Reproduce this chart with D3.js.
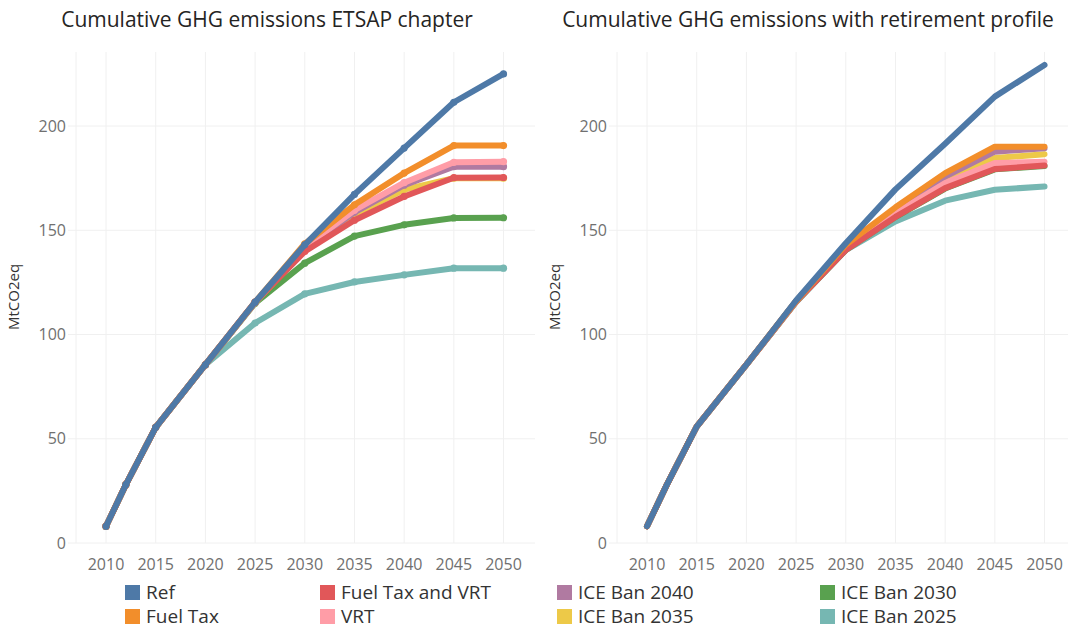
<!DOCTYPE html>
<html>
<head>
<meta charset="utf-8">
<script src="https://cdn.jsdelivr.net/npm/d3@7"></script>
<style>
  body { margin: 0; background: #fff; }
  text { font-family: "Open Sans", "Noto Sans", sans-serif; }
</style>
</head>
<body>
<script>
// years on the x axis
const years = [2010, 2012, 2015, 2020, 2025, 2030, 2035, 2040, 2045, 2050];
const yTicks = [0, 50, 100, 150, 200];
const xTicks = [2010, 2015, 2020, 2025, 2030, 2035, 2040, 2045, 2050];

// scenario names, drawing order is bottom -> top
const scenarios = ["ICE Ban 2025", "ICE Ban 2030", "ICE Ban 2035", "ICE Ban 2040", "VRT", "Fuel Tax and VRT", "Fuel Tax", "Ref"];
const colors = {
  "Ref": "#4e79a7",
  "Fuel Tax": "#f28e2b",
  "Fuel Tax and VRT": "#e15759",
  "VRT": "#ff9da7",
  "ICE Ban 2040": "#b07aa1",
  "ICE Ban 2035": "#edc948",
  "ICE Ban 2030": "#59a14f",
  "ICE Ban 2025": "#76b7b2"
};

// left panel: ETSAP chapter (MtCO2eq, cumulative)
const etsapRef      = [8, 28, 55.5, 85.5, 115.5, 143, 167.2, 189.4, 211.4, 225];
const etsapFuelTax  = [8, 28, 55.5, 85.5, 115.5, 143.5, 162.2, 177.4, 190.6, 190.6];
const etsapFtVrt    = [8, 28, 55.5, 85.5, 115.5, 139.8, 154.8, 166.2, 175.2, 175.3];
const etsapVrt      = [8, 28, 55.5, 85.5, 115.5, 142, 159.6, 172.8, 182.6, 182.9];
const etsapBan2040  = [8, 28, 55.5, 85.5, 115.3, 141.5, 158.6, 171.6, 180.5, 180.5];
const etsapBan2035  = [8, 28, 55.5, 85.5, 115.3, 141, 157.5, 169.5, 175, 175];
const etsapBan2030  = [8, 28, 55.5, 85.5, 115, 134.2, 147.2, 152.6, 155.9, 156];
const etsapBan2025  = [8, 28, 55.5, 85.5, 105.5, 119.5, 125.2, 128.6, 131.8, 131.8];

// right panel: with retirement profile
const retRef      = [8, 28, 55.8, 85.5, 116.3, 143.8, 169.6, 191.5, 214.1, 229.3];
const retFuelTax  = [8, 28, 55.8, 85.5, 116, 143, 161, 177.4, 190.1, 190.1];
const retFtVrt    = [8, 28, 55.8, 85.5, 115.8, 140.5, 156.4, 170.2, 179.4, 181];
const retVrt      = [8, 28, 55.8, 85.5, 115.8, 141, 158.2, 172.6, 182.2, 182.9];
const retBan2040  = [8, 28, 55.8, 85.5, 116, 142, 159.8, 175.7, 187.7, 189.3];
const retBan2035  = [8, 28, 55.8, 85.5, 116, 141.6, 159, 174.4, 184.6, 186.5];
const retBan2030  = [8, 28, 55.8, 85.5, 115.8, 140.5, 156.3, 170, 179.2, 180.8];
const retBan2025  = [8, 28, 55.8, 85.5, 115.5, 140.5, 154.2, 164.2, 169.4, 171];

const panels = [
  {
    title: "Cumulative GHG emissions ETSAP chapter",
    dx: 0, markers: true,
    series: {
      "Ref": etsapRef, "Fuel Tax": etsapFuelTax, "Fuel Tax and VRT": etsapFtVrt, "VRT": etsapVrt,
      "ICE Ban 2040": etsapBan2040, "ICE Ban 2035": etsapBan2035, "ICE Ban 2030": etsapBan2030, "ICE Ban 2025": etsapBan2025
    }
  },
  {
    title: "Cumulative GHG emissions with retirement profile",
    dx: 541, markers: false,
    series: {
      "Ref": retRef, "Fuel Tax": retFuelTax, "Fuel Tax and VRT": retFtVrt, "VRT": retVrt,
      "ICE Ban 2040": retBan2040, "ICE Ban 2035": retBan2035, "ICE Ban 2030": retBan2030, "ICE Ban 2025": retBan2025
    }
  }
];

const svgWidth = 1068;
const svgHeight = 629;

const svg = d3.select("body")
  .append("svg")
  .attr("width", svgWidth)
  .attr("height", svgHeight);

// shared y scale
const yScale = d3.scaleLinear()
  .domain([0, 200])
  .range([543, 126]);
const plotTop = 52;

panels.forEach(function(p) {
  const g = svg.append("g").attr("transform", `translate(${p.dx},0)`);

  const xScale = d3.scaleLinear()
    .domain([2010, 2050])
    .range([106, 503.5]);
  const left = 68, right = 535;

  // title
  g.append("text")
    .attr("x", 267)
    .attr("y", 27)
    .attr("text-anchor", "middle")
    .style("font-size", "21px")
    .style("fill", "#252423")
    .text(p.title);

  // grid
  g.append("line")
    .attr("x1", left + 8).attr("x2", left + 8)
    .attr("y1", plotTop).attr("y2", yScale(0))
    .style("stroke", "#f0f0f0");
  g.selectAll(".vgrid")
    .data(xTicks)
    .join("line")
    .attr("class", "vgrid")
    .attr("x1", d => xScale(d)).attr("x2", d => xScale(d))
    .attr("y1", plotTop).attr("y2", yScale(0))
    .style("stroke", "#f0f0f0");
  g.selectAll(".hgrid")
    .data(yTicks)
    .join("line")
    .attr("class", "hgrid")
    .attr("x1", left).attr("x2", right)
    .attr("y1", d => yScale(d)).attr("y2", d => yScale(d))
    .style("stroke", "#f0f0f0");

  // axes labels
  g.selectAll(".ylab")
    .data(yTicks)
    .join("text")
    .attr("class", "ylab")
    .attr("x", 66)
    .attr("y", d => yScale(d))
    .attr("dy", "0.35em")
    .attr("text-anchor", "end")
    .style("font-size", "16px")
    .style("fill", "#707070")
    .text(d => d);

  g.selectAll(".xlab")
    .data(xTicks)
    .join("text")
    .attr("class", "xlab")
    .attr("x", d => xScale(d))
    .attr("y", 570)
    .attr("text-anchor", "middle")
    .style("font-size", "16px")
    .style("fill", "#707070")
    .text(d => d);

  g.append("text")
    .attr("transform", "rotate(-90)")
    .attr("x", -297)
    .attr("y", 19)
    .attr("text-anchor", "middle")
    .style("font-size", "15px")
    .style("fill", "#333")
    .text("MtCO2eq");

  // lines
  const line = d3.line()
    .x((d, i) => xScale(years[i]))
    .y(d => yScale(d));

  scenarios.forEach(function(name) {
    const vals = p.series[name];
    g.append("path")
      .datum(vals)
      .attr("d", line)
      .style("fill", "none")
      .style("stroke", colors[name])
      .style("stroke-width", 6)
      .style("stroke-linejoin", "round")
      .style("stroke-linecap", "round");

    if (p.markers) {
      g.selectAll(null)
        .data(vals)
        .join("circle")
        .attr("cx", (d, i) => xScale(years[i]))
        .attr("cy", d => yScale(d))
        .attr("r", 3.6)
        .style("fill", colors[name]);
    }
  });
});

// legend, 4 columns x 2 rows
const legendOrder = ["Ref", "Fuel Tax", "Fuel Tax and VRT", "VRT", "ICE Ban 2040", "ICE Ban 2035", "ICE Ban 2030", "ICE Ban 2025"];
const legendCols = [125, 320, 557, 820];
const legendRows = [585, 609];
const boxSize = 15;

const legend = svg.append("g").attr("class", "legend");
const items = legend.selectAll("g")
  .data(legendOrder)
  .join("g")
  .attr("transform", (d, i) => `translate(${legendCols[Math.floor(i / 2)]},${legendRows[i % 2]})`);

items.append("rect")
  .attr("width", boxSize)
  .attr("height", boxSize)
  .style("fill", d => colors[d]);

items.append("text")
  .attr("x", boxSize + 6)
  .attr("y", boxSize / 2)
  .attr("dy", "0.36em")
  .style("font-size", "19px")
  .style("fill", "#333")
  .text(d => d);
</script>
</body>
</html>
